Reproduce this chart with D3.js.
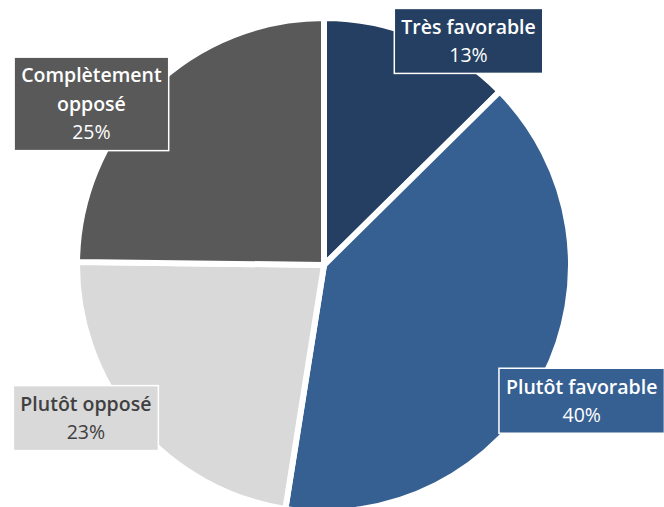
<!DOCTYPE html>
<html>
<head>
<meta charset="utf-8">
<script src="https://cdn.jsdelivr.net/npm/d3@7"></script>
<style>
  body { margin: 0; background: #fff; }
  svg { display: block; font-family: "Open Sans", "Noto Sans", sans-serif; }
</style>
</head>
<body>
<svg width="664" height="507"></svg>
<script>
// data (shares, clockwise from 12 o'clock)
const categories = ["Très favorable", "Plutôt favorable", "Plutôt opposé", "Complètement opposé"];
const shares = [12.6, 39.9, 22.7, 24.8];
const colors = ["#243f61", "#366092", "#d9d9d9", "#595959"];
const textColors = ["#fff", "#fff", "#404040", "#fff"];
// label names split onto lines like in the picture
const nameLines = [["Très favorable"], ["Plutôt favorable"], ["Plutôt opposé"], ["Complètement", "opposé"]];
// nudges of the label boxes away from the outer centroid
const labelNudge = [[35, 38], [5, 6], [-21, -30], [-33, 41]];

const svg = d3.select("svg");
const cx = 324, cy = 265, radius = 247;
const fmt = d3.format(".0%");
const total = d3.sum(shares);

const data = categories.map((c, i) => ({ name: c, value: shares[i], i: i }));

const pie = d3.pie().sort(null).value(d => d.value);
const arc = d3.arc().innerRadius(0).outerRadius(radius);
const outerArc = d3.arc().innerRadius(radius * 1.15).outerRadius(radius * 1.15);

const g = svg.append("g").attr("transform", `translate(${cx},${cy})`);

const arcs = pie(data);

g.selectAll("path.slice")
  .data(arcs)
  .enter().append("path")
  .attr("class", "slice")
  .attr("d", arc)
  .attr("fill", d => colors[d.data.i])
  .attr("stroke", "#fff")
  .attr("stroke-width", 6)
  .attr("stroke-linejoin", "miter");

// labels
const lineH = 28.5, padX = 7, padY = 4;

const lab = g.selectAll("g.lab")
  .data(arcs)
  .enter().append("g")
  .attr("class", "lab");

lab.each(function(d) {
  const grp = d3.select(this);
  const i = d.data.i;
  const lines = nameLines[i].map(t => ({ t: t, w: 600 }))
    .concat([{ t: fmt(d.data.value / total), w: 400 }]);

  const rect = grp.append("rect")
    .attr("fill", colors[i])
    .attr("stroke", "#fff")
    .attr("stroke-width", 1.5);

  const txt = grp.selectAll("text")
    .data(lines)
    .enter().append("text")
    .attr("text-anchor", "middle")
    .attr("fill", textColors[i])
    .style("font-size", "19.5px")
    .style("font-weight", l => l.w)
    .attr("x", 0)
    .attr("y", (l, k) => (k - (lines.length - 1) / 2) * lineH + 7)
    .text(l => l.t);

  let maxW = 0;
  txt.each(function() { maxW = Math.max(maxW, this.getComputedTextLength()); });
  const bw = maxW + padX * 2, bh = lines.length * lineH + padY * 2;
  rect.attr("x", -bw / 2).attr("y", -bh / 2).attr("width", bw).attr("height", bh);

  const c = outerArc.centroid(d);
  grp.attr("transform", `translate(${c[0] + labelNudge[i][0]},${c[1] + labelNudge[i][1]})`);
});
</script>
</body>
</html>
